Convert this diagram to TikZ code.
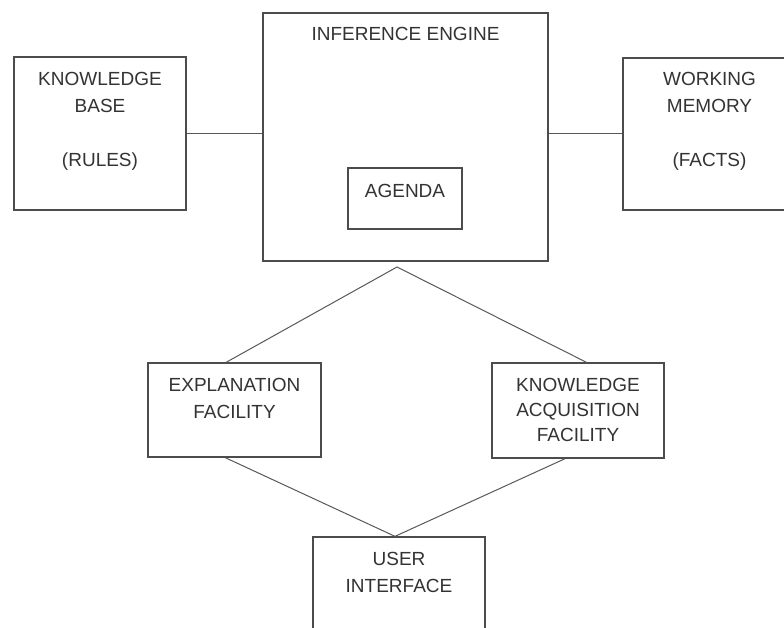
\documentclass[tikz,border=0pt]{standalone}
\usepackage{fontspec}
\setmainfont{Liberation Sans}
\usetikzlibrary{positioning}

\begin{document}
\begin{tikzpicture}[
  x=1pt, y=-1pt,
  box/.style={draw=black!70,line width=1.3pt,inner sep=0pt},
  caption/.style={inner sep=0pt,align=center,text=black!80,
    font=\fontsize{19}{27}\selectfont},
  link/.style={draw=black!65,line width=1pt}
]
  \useasboundingbox[fill=white] (0,0) rectangle (784,628);
  \clip (0,0) rectangle (784,628);

  % boxes
  \node[box,minimum width=172pt,minimum height=153pt] (kb) at (100,133.5) {};
  \node[box,minimum width=285pt,minimum height=248pt] (ie) at (405.5,137) {};
  \node[box,minimum width=114pt,minimum height=61pt] (agenda) at (405,198.5) {};
  \node[box,minimum width=177pt,minimum height=152pt] (wm) at (711.5,134) {};
  \node[box,minimum width=173pt,minimum height=94pt] (ef) at (234.5,410) {};
  \node[box,minimum width=172pt,minimum height=95pt] (ka) at (578,410.5) {};
  \node[box,minimum width=172pt,minimum height=113pt] (ui) at (399,593.5) {};

  % texts
  \node[caption,below=16pt of kb.north] (kbtext) {KNOWLEDGE\\BASE\\[27pt](RULES)};
  \node[caption,below=15pt of ie.north] (ietext) {INFERENCE ENGINE};
  \node[caption,below=17pt of agenda.north] (agendatext) {AGENDA};
  \node[caption,below=15pt of wm.north,xshift=-2pt] (wmtext) {WORKING\\MEMORY\\[27pt](FACTS)};
  \node[caption,below=16pt of ef.north] (eftext) {EXPLANATION\\FACILITY};
  \node[caption,below=16pt of ka.north,font=\fontsize{19}{25}\selectfont] (katext)
    {KNOWLEDGE\\ACQUISITION\\FACILITY};
  \node[caption,below=16pt of ui.north] (uitext) {USER\\INTERFACE};

  % connectors
  \coordinate (fork) at (397,267);
  \draw[link] (kb.east) -- (kb.east -| ie.west);
  \draw[link] (wm.west -| ie.east) -- (wm.west);
  \draw[link] (ef.100) -- (fork) -- (ka.80);
  \draw[link] (ef.259) -- (ui.94) -- (ka.255);
\end{tikzpicture}
\end{document}
